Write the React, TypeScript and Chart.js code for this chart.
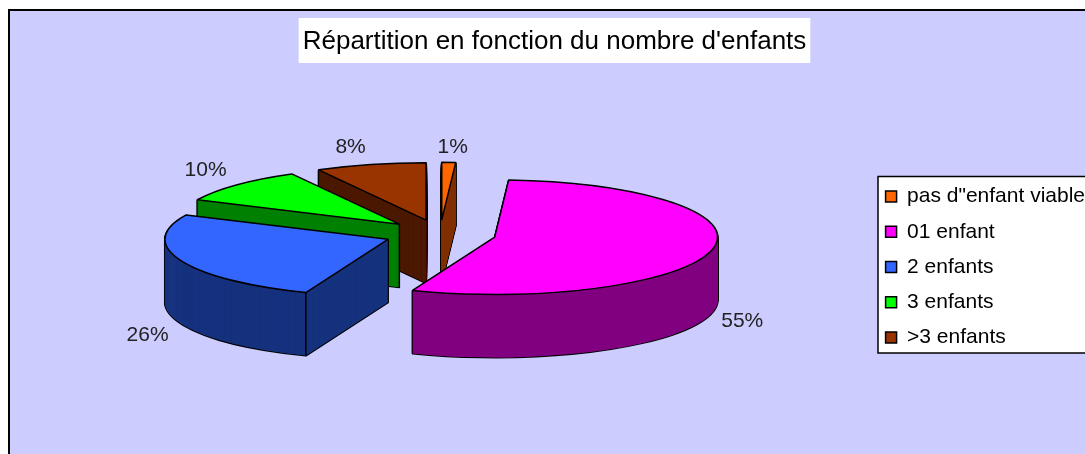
import React, { useEffect, useRef } from "react";
import { Chart, registerables } from "chart.js";

Chart.register(...registerables);

const categories = ['pas d"enfant viable', "01 enfant", "2 enfants", "3 enfants", ">3 enfants"];
const shares = [1, 55, 26, 10, 8];
const faceColors = ["#FF6600", "#FF00FF", "#3366FF", "#00FF00", "#993300"];
const wallColors = ["#803300", "#800080", "#17337F", "#008000", "#4D1A00"];
const chartTitle = "Répartition en fonction du nombre d'enfants";

// 3D projection settings
const CENTER_X = 440;
const CENTER_Y = 234;
const PIE_RADIUS = 223;
const TILT = 0.257;
const DEPTH = 63;
const EXPLODE = 56;
const LABEL_NUDGE = [[4, -15], [30, 9], [-33, 12], [-31, -15], [-20, -17]];
const FONT = "'Liberation Sans', Arial, sans-serif";

function place(ctx: any, el: any, dy: number) {
  const mid = (el.startAngle + el.endAngle) / 2;
  const s = PIE_RADIUS / el.outerRadius;
  ctx.translate(CENTER_X + Math.cos(mid) * EXPLODE, CENTER_Y + Math.sin(mid) * EXPLODE * TILT + dy);
  ctx.scale(s, s * TILT);
  ctx.translate(-el.x, -el.y);
}

function tracePoint(el: any, angle: number, radius: number, dy: number) {
  const mid = (el.startAngle + el.endAngle) / 2;
  return {
    x: CENTER_X + Math.cos(mid) * EXPLODE + Math.cos(angle) * radius,
    y: CENTER_Y + Math.sin(mid) * EXPLODE * TILT + Math.sin(angle) * radius * TILT + dy,
  };
}

function traceFace(ctx: any, el: any, dy: number) {
  ctx.save();
  place(ctx, el, dy);
  ctx.beginPath();
  ctx.moveTo(el.x, el.y);
  ctx.arc(el.x, el.y, el.outerRadius, el.startAngle, el.endAngle);
  ctx.closePath();
  ctx.restore();
}

function verticalEdge(ctx: any, el: any, angle: number, radius: number) {
  const a = tracePoint(el, angle, radius, 0);
  ctx.beginPath();
  ctx.moveTo(a.x, a.y);
  ctx.lineTo(a.x, a.y + DEPTH);
  ctx.stroke();
}

const pie3d = {
  id: "pie3d",
  beforeDraw(chart: any) {
    const { ctx, width, height } = chart;
    ctx.save();
    ctx.fillStyle = "#CCCCFF";
    ctx.fillRect(9, 10, width, height);
    ctx.strokeStyle = "#000";
    ctx.lineWidth = 2;
    ctx.strokeRect(9, 10, width + 20, height + 20);

    // white plate behind the title
    ctx.fillStyle = "#fff";
    ctx.font = `26px ${FONT}`;
    const tw = ctx.measureText(chartTitle).width;
    const tb = chart.titleBlock;
    const tc = (tb.left + tb.right) / 2;
    ctx.fillRect(tc - tw / 2 - 4, 18, tw + 8, 45);

    // framed plate behind the legend
    const boxes = chart.legend.legendHitBoxes;
    const first = boxes[0];
    const last = boxes[boxes.length - 1];
    const rowH = first.height;
    const top = first.top + rowH / 2 - 20;
    const bottom = last.top + rowH / 2 + 15.5;
    ctx.fillStyle = "#fff";
    ctx.fillRect(878, top, width, bottom - top);
    ctx.lineWidth = 1.5;
    ctx.strokeRect(878, top, width, bottom - top);
    ctx.restore();
  },
  beforeDatasetsDraw(chart: any) {
    const { ctx } = chart;
    const meta = chart.getDatasetMeta(0);
    const arcs = meta.data;
    const total = shares.reduce((a, b) => a + b, 0);
    const order = arcs
      .map((el: any, i: number) => i)
      .sort(
        (a: number, b: number) =>
          Math.sin((arcs[a].startAngle + arcs[a].endAngle) / 2) -
          Math.sin((arcs[b].startAngle + arcs[b].endAngle) / 2)
      );

    ctx.save();
    ctx.lineJoin = "round";
    for (const i of order) {
      const el = arcs[i];
      // side walls: outline of the extruded silhouette first, then its fill
      ctx.strokeStyle = "#000";
      ctx.lineWidth = 2;
      for (let dy = DEPTH; dy >= 1; dy--) {
        traceFace(ctx, el, dy);
        ctx.stroke();
      }
      ctx.fillStyle = wallColors[i];
      for (let dy = DEPTH; dy >= 0.5; dy -= 0.25) {
        traceFace(ctx, el, dy);
        ctx.fill();
      }
      // edges between two visible walls
      ctx.lineWidth = 1.5;
      const s = el.startAngle;
      const e = el.endAngle;
      const rimVisible = (a: number) => Math.sin(a) > 0.001;
      const startWall = Math.sin(s - Math.PI / 2) > 0.001;
      const endWall = Math.sin(e + Math.PI / 2) > 0.001;
      if (rimVisible(s) && startWall) verticalEdge(ctx, el, s, PIE_RADIUS);
      if (rimVisible(e) && endWall) verticalEdge(ctx, el, e, PIE_RADIUS);
      if (startWall && endWall) verticalEdge(ctx, el, s, 0);
      // top face through the library's arc element
      ctx.save();
      place(ctx, el, 0);
      el.draw(ctx);
      ctx.restore();
      traceFace(ctx, el, 0);
      ctx.lineWidth = 1.5;
      ctx.stroke();
    }

    // percentage labels
    ctx.fillStyle = "#222";
    ctx.font = `21px ${FONT}`;
    ctx.textAlign = "center";
    ctx.textBaseline = "middle";
    arcs.forEach((el: any, i: number) => {
      const mid = (el.startAngle + el.endAngle) / 2;
      const rim = tracePoint(el, mid, PIE_RADIUS, Math.sin(mid) > 0 ? DEPTH : 0);
      const txt = `${Math.round((shares[i] / total) * 100)}%`;
      ctx.fillText(txt, rim.x + LABEL_NUDGE[i][0], rim.y + LABEL_NUDGE[i][1]);
    });
    ctx.restore();
    return false;
  },
};

export default function App() {
  const ref = useRef<HTMLCanvasElement | null>(null);
  useEffect(() => {
    const chart = new Chart(ref.current as any, {
      type: "pie",
      data: {
        labels: categories,
        datasets: [{ data: shares, backgroundColor: faceColors, borderWidth: 0 }],
      },
      options: {
        animation: false,
        responsive: false,
        layout: { padding: { left: 14, right: -10, top: 0, bottom: -80 } },
        plugins: {
          tooltip: { enabled: false },
          title: {
            display: true,
            text: chartTitle,
            color: "#000",
            font: { family: FONT, size: 26, weight: "normal" },
            padding: { top: 26, bottom: 20 },
          },
          legend: {
            position: "right",
            labels: {
              color: "#000",
              boxWidth: 11,
              boxHeight: 11,
              padding: 14.25,
              font: { family: FONT, size: 21 },
              generateLabels(c: any) {
                return (Chart as any).overrides.pie.plugins.legend.labels
                  .generateLabels(c)
                  .map((l: any) => ({ ...l, strokeStyle: "#000", lineWidth: 1.5 }));
              },
            },
          },
        },
      },
      plugins: [pie3d],
    } as any);
    return () => chart.destroy();
  }, []);
  return (
    <canvas
      ref={ref}
      width={1085}
      height={454}
      style={{ position: "fixed", left: 0, top: 0, width: 1085, height: 454, display: "block" }}
    />
  );
}
